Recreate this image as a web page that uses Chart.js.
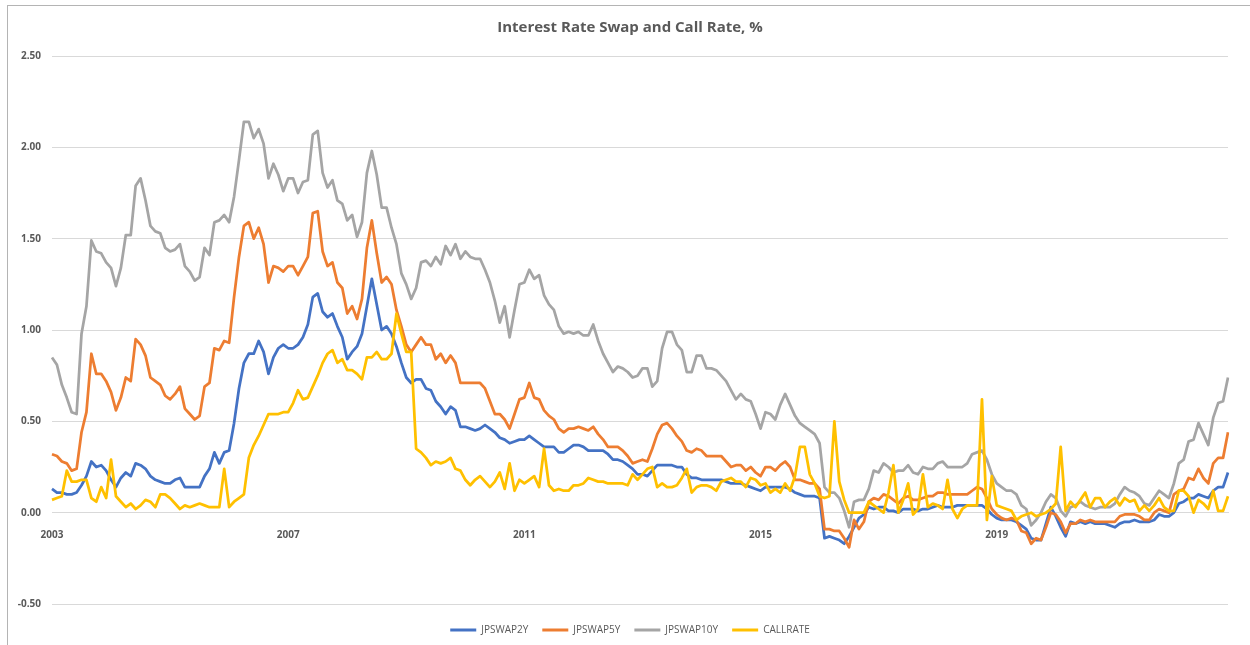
<!DOCTYPE html>
<html>
<head>
<meta charset="utf-8">
<script src="https://cdn.jsdelivr.net/npm/chart.js@4"></script>
<style>
  html, body { margin: 0; padding: 0; background: #fff; }
  #wrap { position: relative; width: 1250px; height: 645px; overflow: hidden; }
  #frame { position: absolute; left: 7px; top: 5px; right: 0; bottom: 0; border-left: 1px solid #b4b4b4; border-top: 1px solid #b4b4b4; pointer-events: none; }
  canvas { position: absolute; left: 0; top: 0; }
</style>
</head>
<body>
<div id="wrap">
  <canvas id="swapChart" width="1250" height="645"></canvas>
  <div id="frame"></div>
</div>
<script>
// Monthly, Jan 2003 - Dec 2022
const months = [];
for (let y = 2003; y <= 2022; y++) {
  for (let m = 1; m <= 12; m++) months.push(y + '-' + String(m).padStart(2, '0'));
}
const tickYears = ['2003', '2007', '2011', '2015', '2019'];
const yTicks = [-0.5, 0, 0.5, 1, 1.5, 2, 2.5];

const jpswap2y = [
  0.13,0.11,0.11,0.10,0.10,0.11,0.15,0.20,0.28,0.25,0.26,0.23,0.18,0.14,0.19,0.22,0.20,0.27,0.26,0.24,0.20,0.18,0.17,0.16,0.16,0.18,0.19,0.14,0.14,0.14,0.14,0.20,0.24,0.33,0.27,0.33,
  0.34,0.49,0.68,0.82,0.87,0.87,0.94,0.88,0.76,0.85,0.90,0.92,0.90,0.90,0.92,0.96,1.03,1.18,1.20,1.10,1.07,1.09,1.02,0.96,0.84,0.88,0.91,0.98,1.13,1.28,1.14,1.00,1.02,0.98,0.91,0.82,0.74,0.71,0.73,
  0.73,0.68,0.67,0.61,0.58,0.54,0.58,0.56,0.47,0.47,0.46,0.45,0.46,0.48,0.46,0.44,0.41,0.40,0.38,0.39,0.40,0.40,0.42,0.40,0.38,0.36,0.36,0.36,0.33,0.33,0.35,0.37,0.37,0.36,0.34,0.34,0.34,0.34,0.32,
  0.29,0.29,0.28,0.26,0.24,0.21,0.21,0.20,0.23,0.26,0.26,0.26,0.26,0.25,0.25,0.21,0.19,0.19,0.18,0.18,0.18,0.18,0.18,0.17,0.16,0.16,0.16,0.15,0.14,0.13,0.12,0.14,0.14,0.14,0.14,0.14,0.13,0.11,
  0.10,0.09,0.09,0.09,0.08,-0.14,-0.13,-0.14,-0.15,-0.17,-0.13,-0.08,-0.03,-0.01,0.03,0.02,0.03,0.03,0.01,0.01,0.00,0.02,0.02,0.02,0.01,0.02,0.02,0.03,0.04,0.03,0.03,0.03,0.04,0.04,0.04,0.04,0.04,0.04,0.02,
  -0.01,-0.03,-0.04,-0.04,-0.04,-0.05,-0.07,-0.09,-0.14,-0.15,-0.15,-0.06,0.03,-0.02,-0.08,-0.13,-0.05,-0.06,-0.05,-0.06,-0.05,-0.06,-0.06,-0.06,-0.07,-0.08,-0.06,-0.05,-0.05,-0.04,-0.05,-0.05,-0.05,-0.04,-0.01,-0.02,-0.02,0.00,0.05,0.06,0.08,0.08,0.10,0.09,0.08,0.12,0.14,0.14,0.22
];

const jpswap5y = [
  0.32,0.31,0.28,0.27,0.23,0.24,0.44,0.55,0.87,0.76,0.76,0.72,0.66,0.56,0.63,0.74,0.72,0.95,0.92,0.86,0.74,0.72,0.70,0.64,0.62,0.65,0.69,0.57,0.54,0.51,0.53,0.69,0.71,0.90,0.89,0.94,
  0.93,1.18,1.40,1.57,1.59,1.50,1.56,1.47,1.26,1.35,1.34,1.32,1.35,1.35,1.30,1.35,1.40,1.64,1.65,1.43,1.35,1.37,1.26,1.23,1.09,1.13,1.06,1.17,1.45,1.60,1.42,1.26,1.29,1.25,1.11,1.02,0.92,0.88,0.92,
  0.96,0.92,0.92,0.84,0.87,0.82,0.86,0.82,0.71,0.71,0.71,0.71,0.71,0.68,0.61,0.54,0.54,0.51,0.46,0.54,0.62,0.63,0.71,0.63,0.62,0.56,0.53,0.51,0.46,0.44,0.46,0.46,0.47,0.46,0.45,0.47,0.43,0.40,0.36,
  0.36,0.36,0.34,0.31,0.27,0.28,0.29,0.28,0.35,0.43,0.48,0.49,0.46,0.42,0.39,0.34,0.33,0.35,0.34,0.31,0.31,0.31,0.31,0.28,0.25,0.26,0.26,0.23,0.25,0.22,0.20,0.25,0.25,0.23,0.26,0.28,0.25,0.18,
  0.18,0.17,0.16,0.16,0.13,-0.09,-0.09,-0.10,-0.10,-0.14,-0.19,-0.04,-0.09,-0.05,0.06,0.08,0.07,0.10,0.09,0.07,0.05,0.08,0.09,0.07,0.07,0.08,0.09,0.09,0.11,0.11,0.10,0.10,0.10,0.10,0.10,0.12,0.14,0.13,0.08,
  0.02,-0.01,-0.03,-0.04,-0.03,-0.04,-0.10,-0.11,-0.17,-0.14,-0.15,-0.08,0.00,-0.01,-0.05,-0.11,-0.06,-0.06,-0.04,-0.05,-0.04,-0.05,-0.05,-0.05,-0.05,-0.05,-0.02,-0.01,-0.01,-0.01,-0.02,-0.04,-0.04,0.00,0.02,0.01,0.00,0.10,0.12,0.13,0.19,0.18,0.24,0.19,0.16,0.27,0.30,0.30,0.44
];

const jpswap10y = [
  0.85,0.81,0.70,0.63,0.55,0.54,0.98,1.13,1.49,1.43,1.42,1.37,1.34,1.24,1.34,1.52,1.52,1.79,1.83,1.71,1.57,1.54,1.53,1.45,1.43,1.44,1.47,1.35,1.32,1.27,1.29,1.45,1.41,1.59,1.60,1.63,
  1.59,1.73,1.93,2.14,2.14,2.05,2.10,2.02,1.83,1.91,1.85,1.76,1.83,1.83,1.75,1.81,1.82,2.07,2.09,1.86,1.78,1.82,1.71,1.69,1.60,1.63,1.51,1.59,1.86,1.98,1.85,1.67,1.67,1.56,1.47,1.31,1.25,1.17,1.23,
  1.37,1.38,1.35,1.40,1.36,1.46,1.41,1.47,1.39,1.43,1.40,1.39,1.39,1.33,1.26,1.16,1.04,1.13,0.96,1.11,1.25,1.26,1.33,1.28,1.30,1.19,1.14,1.11,1.02,0.98,0.99,0.98,0.99,0.97,0.97,1.03,0.94,0.87,0.82,
  0.77,0.80,0.79,0.77,0.74,0.75,0.79,0.79,0.69,0.72,0.90,0.99,0.99,0.92,0.89,0.77,0.77,0.86,0.86,0.79,0.79,0.78,0.75,0.72,0.67,0.62,0.65,0.62,0.61,0.54,0.46,0.55,0.54,0.51,0.59,0.65,0.59,0.53,
  0.49,0.47,0.45,0.43,0.38,0.14,0.11,0.11,0.08,0.01,-0.08,0.06,0.07,0.07,0.13,0.23,0.22,0.27,0.25,0.22,0.23,0.23,0.26,0.22,0.21,0.25,0.24,0.24,0.27,0.28,0.25,0.25,0.25,0.25,0.27,0.32,0.33,0.34,0.29,
  0.21,0.16,0.14,0.12,0.12,0.10,0.04,0.02,-0.07,-0.04,0.00,0.06,0.10,0.08,0.01,-0.02,0.03,0.04,0.06,0.04,0.03,0.02,0.03,0.03,0.03,0.05,0.10,0.14,0.12,0.11,0.09,0.05,0.04,0.08,0.12,0.10,0.08,0.16,0.27,0.29,0.39,0.40,0.49,0.43,0.37,0.52,0.60,0.61,0.74
];

const callrate = [
  0.07,0.08,0.09,0.23,0.17,0.17,0.18,0.18,0.08,0.06,0.14,0.08,0.29,0.09,0.06,0.03,0.05,0.02,0.04,0.07,0.06,0.03,0.10,0.10,0.08,0.05,0.02,0.04,0.03,0.04,0.05,0.04,0.03,0.03,0.03,0.24,
  0.03,0.06,0.08,0.10,0.30,0.37,0.42,0.48,0.54,0.54,0.54,0.55,0.55,0.60,0.67,0.62,0.63,0.69,0.75,0.82,0.87,0.89,0.82,0.84,0.78,0.78,0.76,0.73,0.85,0.85,0.88,0.84,0.84,0.87,1.09,0.98,0.88,0.88,0.35,
  0.33,0.30,0.26,0.28,0.27,0.28,0.30,0.24,0.23,0.18,0.15,0.18,0.20,0.17,0.14,0.17,0.22,0.13,0.27,0.12,0.18,0.16,0.18,0.20,0.14,0.35,0.15,0.12,0.13,0.12,0.12,0.15,0.15,0.16,0.19,0.18,0.17,0.17,0.16,
  0.16,0.16,0.16,0.15,0.21,0.18,0.21,0.24,0.25,0.14,0.16,0.14,0.14,0.15,0.19,0.24,0.11,0.14,0.15,0.15,0.14,0.12,0.17,0.18,0.19,0.17,0.17,0.14,0.19,0.18,0.15,0.16,0.11,0.13,0.11,0.16,0.12,0.20,
  0.36,0.36,0.21,0.16,0.09,0.08,0.09,0.50,0.17,0.07,0.00,0.00,0.00,0.00,0.06,0.04,0.02,0.00,0.11,0.26,0.00,0.07,0.16,-0.01,0.02,0.21,0.03,0.05,0.04,0.02,0.18,0.02,-0.03,0.02,0.04,0.04,0.04,0.62,-0.04,
  0.20,0.04,0.03,0.02,0.01,-0.04,-0.02,-0.01,0.00,-0.02,-0.01,0.00,0.02,0.05,0.36,0.01,0.06,0.03,0.07,0.11,0.03,0.08,0.08,0.03,0.06,0.08,0.04,0.08,0.06,0.07,0.01,0.04,0.01,0.04,0.08,0.03,0.01,0.01,0.12,0.12,0.09,0.00,0.07,0.05,0.02,0.12,0.01,0.01,0.09
];

const textGray = '#595959';
const gridGray = '#d9d9d9';
const fontFamily = "'Open Sans', 'Liberation Sans', sans-serif";

function series(label, data, color, order) {
  return {
    label: label,
    data: data,
    borderColor: color,
    backgroundColor: color,
    borderWidth: 2.75,
    pointRadius: 0,
    tension: 0,
    borderJoinStyle: 'round',
    fill: false,
    order: order,
  };
}

// invisible axis used only to reserve space
function spacer(position, size) {
  return {
    type: 'linear',
    position: position,
    display: true,
    grid: { display: false },
    border: { display: false },
    ticks: { display: false },
    afterFit: (scale) => {
      if (scale.isHorizontal()) scale.height = size; else scale.width = size;
    },
  };
}

const ctx = document.getElementById('swapChart').getContext('2d');
const swapChart = new Chart(ctx, {
  type: 'line',
  data: {
    labels: months,
    datasets: [
      series('JPSWAP2Y', jpswap2y, '#4472C4', 4),
      series('JPSWAP5Y', jpswap5y, '#ED7D31', 3),
      series('JPSWAP10Y', jpswap10y, '#A5A5A5', 2),
      series('CALLRATE', callrate, '#FFC000', 1),
    ],
  },
  options: {
    responsive: false,
    animation: false,
    layout: {
      padding: { top: 10, right: 0, bottom: 0, left: 10 },
    },
    plugins: {
      title: {
        display: true,
        text: 'Interest Rate Swap and Call Rate, %',
        color: textGray,
        font: { family: fontFamily, size: 15, weight: 'bold' },
        padding: { top: 9, bottom: 19 },
      },
      legend: {
        position: 'bottom',
        labels: {
          color: textGray,
          font: { family: fontFamily, size: 10 },
          boxWidth: 26,
          boxHeight: 3,
          padding: 14,
          sort: (a, b) => a.datasetIndex - b.datasetIndex,
          generateLabels: (chart) =>
            Chart.defaults.plugins.legend.labels.generateLabels(chart).map(l => ({ ...l, lineWidth: 0 })),
        },
      },
      tooltip: { enabled: false },
    },
    scales: {
      x: {
        position: { y: 0 },
        grid: { display: false },
        border: { color: gridGray, width: 1 },
        ticks: {
          autoSkip: false,
          maxRotation: 0,
          minRotation: 0,
          padding: 8,
          color: textGray,
          font: { family: fontFamily, size: 10, weight: 'bold' },
          callback: function (value) {
            const lab = months[value];
            return lab.endsWith('-01') && tickYears.includes(lab.slice(0, 4)) ? lab.slice(0, 4) : '';
          },
        },
      },
      gapBottom: spacer('bottom', 7),
      gapRight: spacer('right', 22),
      y: {
        min: yTicks[0],
        max: yTicks[yTicks.length - 1],
        afterFit: (scale) => { scale.width = 42; },
        grid: { color: gridGray, drawTicks: false },
        border: { display: false },
        ticks: {
          stepSize: 0.5,
          padding: 11,
          color: textGray,
          font: { family: fontFamily, size: 10, weight: 'bold' },
          callback: (v) => v.toFixed(2),
        },
      },
    },
  },
});
</script>
</body>
</html>
